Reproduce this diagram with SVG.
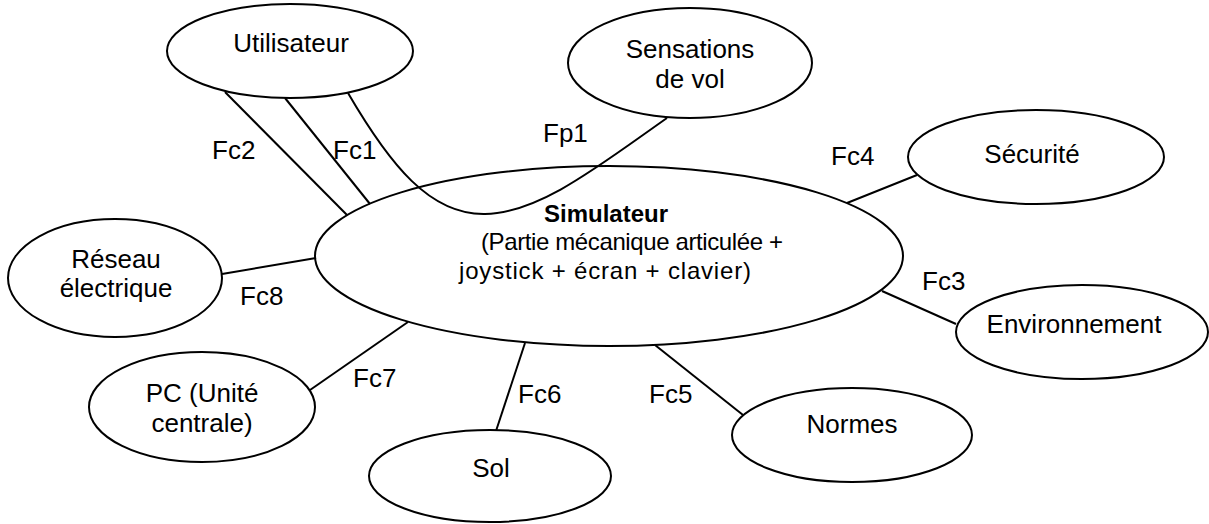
<svg xmlns="http://www.w3.org/2000/svg" width="1209" height="524" viewBox="0 0 1209 524">
<style>
.n{fill:#fff;stroke:#000;stroke-width:2}
.c{fill:none;stroke:#000;stroke-width:2}
text{font-family:"Liberation Sans",Arial,sans-serif;font-size:26px;fill:#000}
.m{text-anchor:middle}
.s{font-size:24px}
.b{font-weight:bold}
</style>
<rect width="1209" height="524" fill="#fff"/>
<g id="connectors">
<line class="c" x1="225" y1="92" x2="347" y2="215"/>
<line class="c" x1="285" y1="98" x2="370" y2="204"/>
<path class="c" d="M348,93 C390,165 430,215 485,214 C540,213 600,165 667,118"/>
<line class="c" x1="847" y1="203" x2="917" y2="175"/>
<line class="c" x1="882" y1="291" x2="956" y2="324"/>
<line class="c" x1="655" y1="345" x2="743" y2="415"/>
<line class="c" x1="525" y1="343" x2="496" y2="431"/>
<line class="c" x1="408" y1="322" x2="310" y2="390"/>
<line class="c" x1="222" y1="274" x2="316" y2="258"/>
<text x="212" y="159">Fc2</text>
<text x="333" y="159">Fc1</text>
<text x="543" y="142">Fp1</text>
<text x="831" y="165">Fc4</text>
<text x="922" y="290">Fc3</text>
<text x="649" y="403">Fc5</text>
<text x="518" y="403">Fc6</text>
<text x="353" y="387">Fc7</text>
<text x="240" y="305">Fc8</text>
</g>
<g id="simulateur">
<ellipse class="c" cx="609" cy="256" rx="294" ry="90"/>
<text class="m s b" x="606" y="222">Simulateur</text>
<text class="m s" x="632" y="250" textLength="302" lengthAdjust="spacing">(Partie mécanique articulée +</text>
<text class="m s" x="605" y="279" textLength="292" lengthAdjust="spacing">joystick + écran + clavier)</text>
</g>
<g id="utilisateur">
<ellipse class="n" cx="290" cy="51" rx="123" ry="47"/>
<text class="m" x="291" y="52">Utilisateur</text>
</g>
<g id="sensations">
<ellipse class="n" cx="690" cy="63" rx="122" ry="55"/>
<text class="m" x="690" y="58">Sensations</text>
<text class="m" x="690" y="88">de vol</text>
</g>
<g id="securite">
<ellipse class="n" cx="1036" cy="157" rx="128" ry="47"/>
<text class="m" x="1032" y="163">Sécurité</text>
</g>
<g id="environnement">
<ellipse class="n" cx="1082" cy="332" rx="126" ry="47"/>
<text class="m" x="1074" y="333">Environnement</text>
</g>
<g id="normes">
<ellipse class="n" cx="852" cy="435" rx="120" ry="47"/>
<text class="m" x="852" y="433">Normes</text>
</g>
<g id="sol">
<ellipse class="n" cx="490" cy="476" rx="121" ry="46"/>
<text class="m" x="491" y="477">Sol</text>
</g>
<g id="pc">
<ellipse class="n" cx="202" cy="407" rx="113" ry="55"/>
<text class="m" x="202" y="402">PC (Unité</text>
<text class="m" x="202" y="432">centrale)</text>
</g>
<g id="reseau">
<ellipse class="n" cx="115" cy="278" rx="107" ry="59"/>
<text class="m" x="116" y="268">Réseau</text>
<text class="m" x="116" y="297">électrique</text>
</g>
</svg>
